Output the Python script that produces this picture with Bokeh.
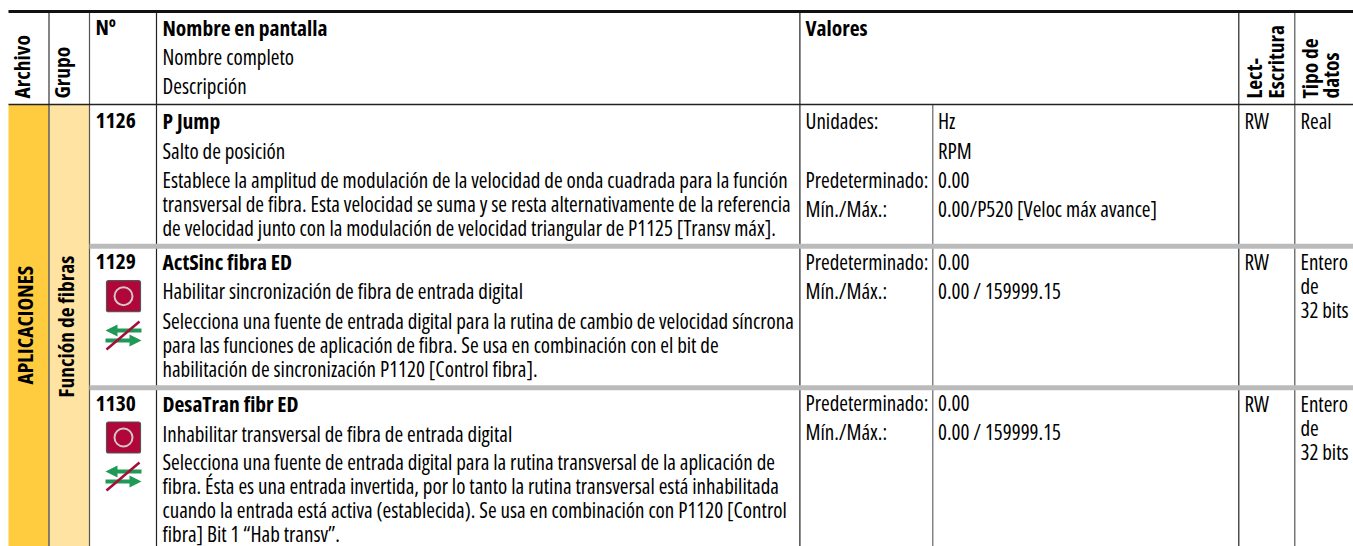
from math import pi
from bokeh.plotting import figure
from bokeh.models import Range1d
from bokeh.core.properties import value
from bokeh.embed import file_html
from bokeh.resources import INLINE

FONT = "Open Sans"
BODY_SIZE = "21px"
BOLD_SIZE = "21.5px"

header_main = ["N\u00ba", "Nombre en pantalla", "Valores"]
header_sub = ["Nombre completo", "Descripci\u00f3n"]
rotated_headers = ["Archivo", "Grupo", "Lect-", "Escritura", "Tipo de", "datos"]
file_label = "APLICACIONES"
group_label = "Funci\u00f3n de fibras"

numbers = ["1126", "1129", "1130"]
names = ["P Jump", "ActSinc fibra ED", "DesaTran fibr ED"]
full_names = ["Salto de posici\u00f3n",
              "Habilitar sincronizaci\u00f3n de fibra de entrada digital",
              "Inhabilitar transversal de fibra de entrada digital"]
desc_1126 = ["Establece la amplitud de modulaci\u00f3n de la velocidad de onda cuadrada para la funci\u00f3n",
             "transversal de fibra. Esta velocidad se suma y se resta alternativamente de la referencia",
             "de velocidad junto con la modulaci\u00f3n de velocidad triangular de P1125 [Transv m\u00e1x]."]
desc_1129 = ["Selecciona una fuente de entrada digital para la rutina de cambio de velocidad s\u00edncrona",
             "para las funciones de aplicaci\u00f3n de fibra. Se usa en combinaci\u00f3n con el bit de",
             "habilitaci\u00f3n de sincronizaci\u00f3n P1120 [Control fibra]."]
desc_1130 = ["Selecciona una fuente de entrada digital para la rutina transversal de la aplicaci\u00f3n de",
             "fibra. \u00c9sta es una entrada invertida, por lo tanto la rutina transversal est\u00e1 inhabilitada",
             "cuando la entrada est\u00e1 activa (establecida). Se usa en combinaci\u00f3n con P1120 [Control",
             "fibra] Bit 1 \u201cHab transv\u201d."]
val_labels_1126 = ["Unidades:", "Predeterminado:", "M\u00edn./M\u00e1x.:"]
val_values_1126 = ["Hz", "RPM", "0.00", "0.00/P520 [Veloc m\u00e1x avance]"]
val_labels_other = ["Predeterminado:", "M\u00edn./M\u00e1x.:"]
val_values_other = ["0.00", "0.00 / 159999.15"]
access = "RW"
types = [["Real"], ["Entero", "de", "32 bits"], ["Entero", "de", "32 bits"]]

W, H = 1353, 546
p = figure(width=W, height=H, x_range=Range1d(0, W), y_range=Range1d(H, 0),
           output_backend="svg", toolbar_location=None, min_border=0,
           outline_line_color=None, background_fill_color="white")
p.axis.visible = False
p.grid.visible = False
p.stylesheets = [":host { font-stretch: 80%; }"]

def band(x0, x1, y0, y1, color):
    p.quad(left=[x0], right=[x1], top=[y0], bottom=[y1], fill_color=color, line_color=None)

def seg(x0, y0, x1, y1, color, w):
    p.segment([x0], [y0], [x1], [y1], line_color=color, line_width=w)

BASE_SHIFT = 8
def txt(x, y, s, size=BODY_SIZE, bold=False, angle=0, align="left", color="#000000"):
    yy = y if angle else y - BASE_SHIFT
    p.text([x], [yy], text=[s], text_font=value(FONT), text_font_size=BOLD_SIZE if bold else size,
           text_font_style="bold" if bold else "normal", angle=angle,
           text_align=align, text_baseline="alphabetic", text_color=color)

band(8, 48, 104, 546, "#FFCB3F")
band(49, 89, 104, 546, "#FEE3A2")

for x, c in [(48.5, "#333333"), (89, "#555555"), (156, "#222222"), (799.4, "#222222"),
             (1238.3, "#222222"), (1294.3, "#555555")]:
    seg(x, 11, x, 546, c, 1.2)
seg(932.3, 104, 932.3, 546, "#666666", 1.2)

seg(89, 245.7, 1353, 245.7, "#BBBBBB", 5)
seg(89, 387.2, 1353, 387.2, "#BBBBBB", 5)
seg(8, 11, 1353, 11, "#111111", 2.8)
seg(8, 104, 1353, 104, "#222222", 1.6)

txt(95, 34, header_main[0], bold=True)
txt(162, 35, header_main[1], bold=True)
txt(805, 35, header_main[2], bold=True)
txt(162, 64, header_sub[0])
txt(162, 93, header_sub[1])

ROT_SHIFT = 11
for x, s in zip([32, 72, 1264.3, 1286.2, 1320, 1341], rotated_headers):
    txt(x - ROT_SHIFT, 98, s, bold=True, angle=pi / 2)
txt(35 - ROT_SHIFT, 384, file_label, bold=True, angle=pi / 2)
txt(76 - ROT_SHIFT, 397, group_label, bold=True, angle=pi / 2)

num_y = [128, 269, 411]
full_y = [158, 298, 441]
for i, (n, nm, f) in enumerate(zip(numbers, names, full_names)):
    txt(95, num_y[i], n, bold=True)
    txt(162, num_y[i], nm, bold=True)
    txt(162, full_y[i], f)
    txt(1244, num_y[i], access)
    for j, t in enumerate(types[i]):
        txt(1300, num_y[i] + j * 24, t)

for lines, ys in [(desc_1126, [187, 211, 235]), (desc_1129, [328, 352, 376]), (desc_1130, [469, 493, 517, 541])]:
    for y, s in zip(ys, lines):
        txt(162, y, s)

for y, s in zip([128, 187, 216], val_labels_1126):
    txt(805, y, s)
for y, s in zip([128, 158, 187, 216], val_values_1126):
    txt(937.5, y, s)
for base in [269, 410]:
    for j, (a, b) in enumerate(zip(val_labels_other, val_values_other)):
        txt(805, base + j * 29.5, a)
        txt(937.5, base + j * 29.5, b)

def enable_icon(cy):
    p.quad(left=[106], right=[140], top=[cy - 15.5], bottom=[cy + 15.5], fill_color="#B0063A",
           line_color="#555555", line_width=1.2, border_radius=2)
    p.circle([123], [cy], radius=9, fill_color=None, line_color="#D0C8C8", line_width=2)

def digital_icon(cy):
    gx = [[141, 117, 117, 105, 117, 117, 141], [105, 129, 129, 141, 129, 129, 105]]
    gy = [[cy - 7, cy - 7, cy - 11, cy - 5, cy + 1, cy - 3, cy - 3],
          [cy + 3, cy + 3, cy - 1, cy + 5, cy + 11, cy + 7, cy + 7]]
    p.patches(gx, gy, fill_color="#1F9A56", line_color=None)
    p.segment([106], [cy + 14], [139], [cy - 14], line_color="#A50D3A", line_width=2.5)

for cy in [295.7, 437]:
    enable_icon(cy)
for cy in [335, 476]:
    digital_icon(cy)

open("out.html", "w").write(file_html(p, INLINE))
